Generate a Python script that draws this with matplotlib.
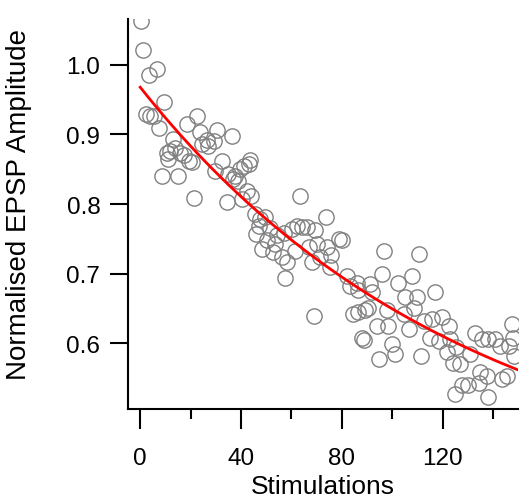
import numpy as np
import matplotlib
matplotlib.use('Agg')
import matplotlib.pyplot as plt
from matplotlib.ticker import MultipleLocator

plt.rcParams['font.family'] = ['Liberation Sans', 'DejaVu Sans']

# values (stimulation number, normalised amplitude)
stim = [0.4, 1.3, 2.3, 3.6, 4.0, 5.4, 6.6, 7.3, 8.6, 9.3,
        10.6, 11.2, 11.9, 13.2, 13.9, 15.2, 15.9, 17.5, 18.5, 19.2,
        20.5, 21.2, 22.5, 23.8, 24.5, 26.5, 27.1, 29.1, 29.5, 30.4,
        32.4, 35.0, 34.5, 36.4, 36.8, 37.7, 39.0, 39.7, 40.3, 41.0,
        42.3, 43.0, 43.7, 44.0, 45.6, 45.9, 47.5, 47.0, 48.3, 49.6,
        50.3, 51.6, 52.9, 53.6, 54.2, 56.2, 56.9, 57.5, 58.2, 60.2,
        61.5, 62.2, 63.5, 64.2, 66.1, 66.8, 68.1, 69.4, 69.0, 70.1,
        71.3, 73.8, 74.1, 75.4, 75.9, 78.7, 80.0, 82.0, 83.3, 84.6,
        86.0, 86.5, 86.6, 88.0, 88.9, 89.3, 90.6, 91.3, 91.9, 93.9,
        94.6, 95.9, 96.6, 97.9, 98.3, 99.9, 101.2, 102.5, 104.5, 105.2,
        106.5, 107.8, 108.5, 109.8, 110.8, 111.5, 112.8, 115.1, 115.7, 117.1,
        118.4, 119.7, 121.7, 122.4, 122.9, 124.3, 125.0, 125.5, 127.0, 127.8,
        129.9, 131.0, 132.9, 134.3, 134.9, 135.6, 137.6, 138.0, 138.2, 140.9,
        142.8, 143.5, 145.5, 146.2, 147.5, 148.0, 148.5]
amp = [1.063, 1.022, 0.929, 0.985, 0.927, 0.926, 0.994, 0.910, 0.841, 0.947,
       0.874, 0.865, 0.876, 0.894, 0.880, 0.841, 0.874, 0.870, 0.915, 0.862,
       0.860, 0.809, 0.926, 0.903, 0.886, 0.892, 0.884, 0.891, 0.848, 0.906,
       0.862, 0.843, 0.803, 0.898, 0.836, 0.841, 0.833, 0.850, 0.807, 0.855,
       0.819, 0.857, 0.864, 0.812, 0.785, 0.757, 0.778, 0.769, 0.736, 0.781,
       0.748, 0.765, 0.731, 0.743, 0.755, 0.724, 0.759, 0.694, 0.716, 0.764,
       0.733, 0.768, 0.812, 0.767, 0.767, 0.738, 0.716, 0.762, 0.639, 0.743,
       0.724, 0.781, 0.738, 0.709, 0.726, 0.750, 0.748, 0.697, 0.682, 0.642,
       0.687, 0.676, 0.644, 0.607, 0.604, 0.647, 0.651, 0.685, 0.673, 0.625,
       0.577, 0.699, 0.733, 0.647, 0.625, 0.599, 0.584, 0.687, 0.642, 0.666,
       0.620, 0.697, 0.651, 0.666, 0.728, 0.582, 0.632, 0.608, 0.635, 0.673,
       0.603, 0.637, 0.587, 0.625, 0.606, 0.572, 0.527, 0.594, 0.570, 0.539,
       0.539, 0.584, 0.615, 0.543, 0.558, 0.606, 0.553, 0.522, 0.606, 0.606,
       0.596, 0.548, 0.553, 0.596, 0.627, 0.608, 0.582]

# single exponential fit (offset + amp * exp(-x/tau)), parameters
fit_offset = 0.374
fit_amp = 0.594
fit_tau = 130.0
fit_end = 150

fig = plt.figure(figsize=(5.25, 5.02), dpi=100)
ax = fig.add_axes([0.244, 0.183, 0.743, 0.777])

ax.plot(stim, amp, 'o', markersize=11, markerfacecolor='none',
        markeredgecolor='#808080', markeredgewidth=1.0, zorder=2)

xf = np.linspace(0, fit_end, 300)
ax.plot(xf, fit_offset + fit_amp * np.exp(-xf / fit_tau), color='red', lw=2.0, zorder=3)

ax.set_xlim(-4.8, 150)
ax.set_ylim(0.505, 1.066)
ax.xaxis.set_major_locator(MultipleLocator(40))
ax.xaxis.set_minor_locator(MultipleLocator(20))
ax.set_yticks([0.6, 0.7, 0.8, 0.9, 1.0])
ax.set_yticklabels(['0.6', '0.7', '0.8', '0.9', '1.0'])

for s in ['top', 'right']:
    ax.spines[s].set_visible(False)
for s in ['left', 'bottom']:
    ax.spines[s].set_linewidth(1.5)

ax.tick_params(axis='x', which='major', length=14.5, width=1.5, pad=12.5, labelsize=17.5)
ax.tick_params(axis='x', which='minor', length=7.5, width=1.5)
ax.tick_params(axis='y', which='major', length=13, width=1.5, pad=7, labelsize=17.5)

ax.set_xlabel('Stimulations', fontsize=19, labelpad=4)
ax.set_ylabel('Normalised EPSP Amplitude', fontsize=20)
ax.yaxis.set_label_coords(-0.246, 0.528)

fig.savefig('out.png', dpi=100)
